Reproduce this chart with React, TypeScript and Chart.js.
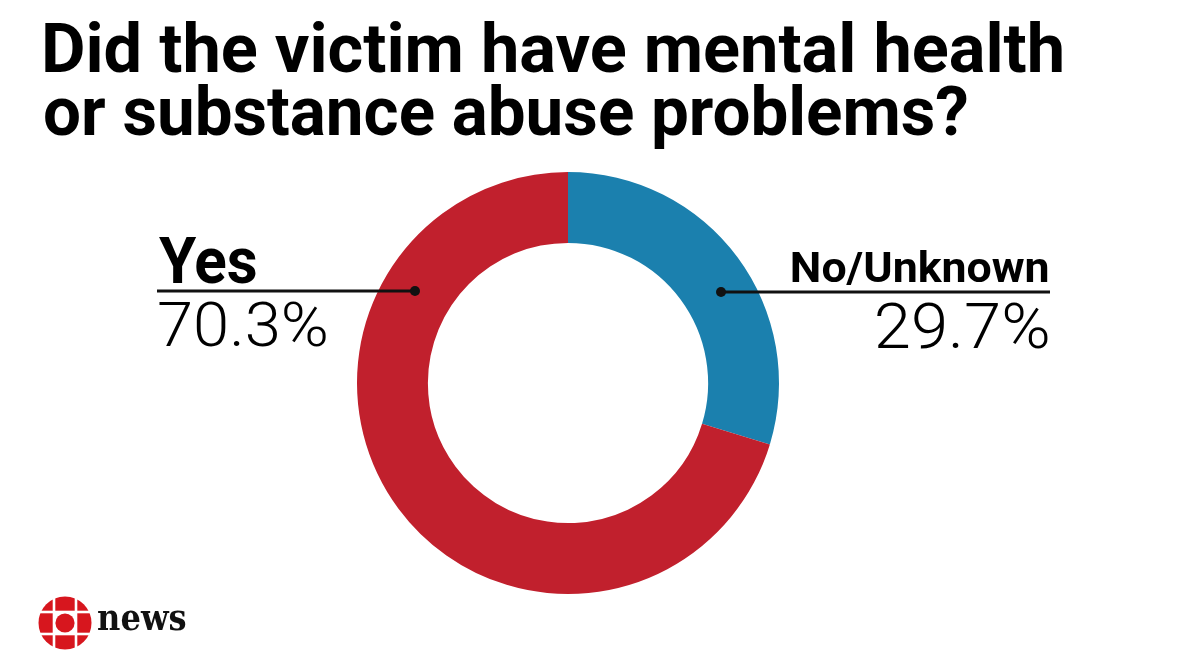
import React, { useEffect, useRef } from 'react';
import { Chart, registerables } from 'chart.js';

Chart.register(...registerables);

const titleLines = ['Did the victim have mental health', 'or substance abuse problems?'];
const categories = ['No/Unknown', 'Yes'];
const values = [29.7, 70.3];
const sliceColors = ['#1B80AE', '#C1202D'];
const brandText = 'news';

type Align = 'left' | 'right';

function fitText(
  ctx: CanvasRenderingContext2D,
  text: string,
  x: number,
  y: number,
  font: string,
  width: number,
  align: Align,
  color = '#000'
) {
  ctx.save();
  ctx.font = font;
  ctx.textAlign = 'left';
  ctx.textBaseline = 'alphabetic';
  ctx.fillStyle = color;
  const m = ctx.measureText(text);
  const ink = m.actualBoundingBoxLeft + m.actualBoundingBoxRight;
  const s = width / ink;
  ctx.translate(x, y);
  ctx.scale(s, 1);
  if (align === 'left') ctx.fillText(text, m.actualBoundingBoxLeft, 0);
  else ctx.fillText(text, -m.actualBoundingBoxRight, 0);
  ctx.restore();
}

function drawGem(ctx: CanvasRenderingContext2D, cx: number, cy: number) {
  const R = 26.5;
  const cell = 11;
  const gap = 2.6;
  ctx.save();
  ctx.fillStyle = '#D7161E';
  ctx.beginPath();
  ctx.arc(cx, cy, R, 0, Math.PI * 2);
  ctx.fill();
  ctx.fillStyle = '#fff';
  ctx.fillRect(cx - cell - gap / 2, cy - R - 1, gap, 2 * R + 2);
  ctx.fillRect(cx + cell - gap / 2, cy - R - 1, gap, 2 * R + 2);
  ctx.fillRect(cx - R - 1, cy - cell - gap / 2, 2 * R + 2, gap);
  ctx.fillRect(cx - R - 1, cy + cell - gap / 2, 2 * R + 2, gap);
  ctx.fillRect(cx - cell, cy - cell, 2 * cell, 2 * cell);
  ctx.fillStyle = '#D7161E';
  ctx.beginPath();
  ctx.arc(cx, cy, 9.6, 0, Math.PI * 2);
  ctx.fill();
  ctx.restore();
}

const overlayPlugin = {
  id: 'overlay',
  afterDraw(chart: any) {
    const ctx: CanvasRenderingContext2D = chart.ctx;
    fitText(ctx, titleLines[0], 45, 72, '700 68px Roboto', 1017, 'left');
    fitText(ctx, titleLines[1], 45, 135, '700 68px Roboto', 922, 'left');

    const meta = chart.getDatasetMeta(0);
    const arc = meta.data[0];
    const cx = arc.x;
    const cy = arc.y;
    const rm = (arc.innerRadius + arc.outerRadius) / 2 + 3;
    const lineY = 291;
    const dx = Math.sqrt(Math.max(0, rm * rm - (lineY - cy) * (lineY - cy)));
    const leftDotX = cx - dx;
    const rightDotX = cx + dx;

    ctx.save();
    ctx.strokeStyle = '#111';
    ctx.fillStyle = '#111';
    ctx.lineWidth = 3;
    ctx.beginPath();
    ctx.moveTo(157, lineY);
    ctx.lineTo(leftDotX, lineY);
    ctx.stroke();
    ctx.beginPath();
    ctx.arc(leftDotX, lineY, 5, 0, Math.PI * 2);
    ctx.fill();
    ctx.beginPath();
    ctx.moveTo(rightDotX, lineY + 1);
    ctx.lineTo(1050, lineY + 1);
    ctx.stroke();
    ctx.beginPath();
    ctx.arc(rightDotX, lineY + 1, 5, 0, Math.PI * 2);
    ctx.fill();
    ctx.restore();

    fitText(ctx, categories[1], 159, 283, '700 64px Roboto', 97, 'left');
    fitText(ctx, `${values[1]}%`, 159, 346, '300 62px Roboto', 167, 'left');
    fitText(ctx, categories[0], 1048, 282, '700 42px Roboto', 256, 'right');
    fitText(ctx, `${values[0]}%`, 1048, 348, '300 63px Roboto', 171, 'right');

    drawGem(ctx, 65, 623);
    fitText(ctx, brandText, 98, 630, "700 35px 'DejaVu Serif'", 88, 'left', '#111');
  },
};

export default function App() {
  const ref = useRef<HTMLCanvasElement | null>(null);
  useEffect(() => {
    document.body.style.margin = '0';
    if (!ref.current) return;
    const chart = new Chart(ref.current, {
      type: 'doughnut',
      data: {
        labels: categories,
        datasets: [
          {
            data: values,
            backgroundColor: sliceColors,
            borderWidth: 0,
            hoverOffset: 0,
          },
        ],
      },
      options: {
        responsive: false,
        animation: false,
        cutout: '66.4%',
        layout: { padding: { top: 172, bottom: 70, left: 357, right: 401 } },
        plugins: {
          legend: { display: false },
          tooltip: { enabled: false },
          title: { display: false },
        },
      },
      plugins: [overlayPlugin],
    });
    return () => chart.destroy();
  }, []);
  return (
    <div style={{ width: 1180, height: 664, background: '#fff' }}>
      <canvas ref={ref} width={1180} height={664} style={{ display: 'block' }} />
    </div>
  );
}
